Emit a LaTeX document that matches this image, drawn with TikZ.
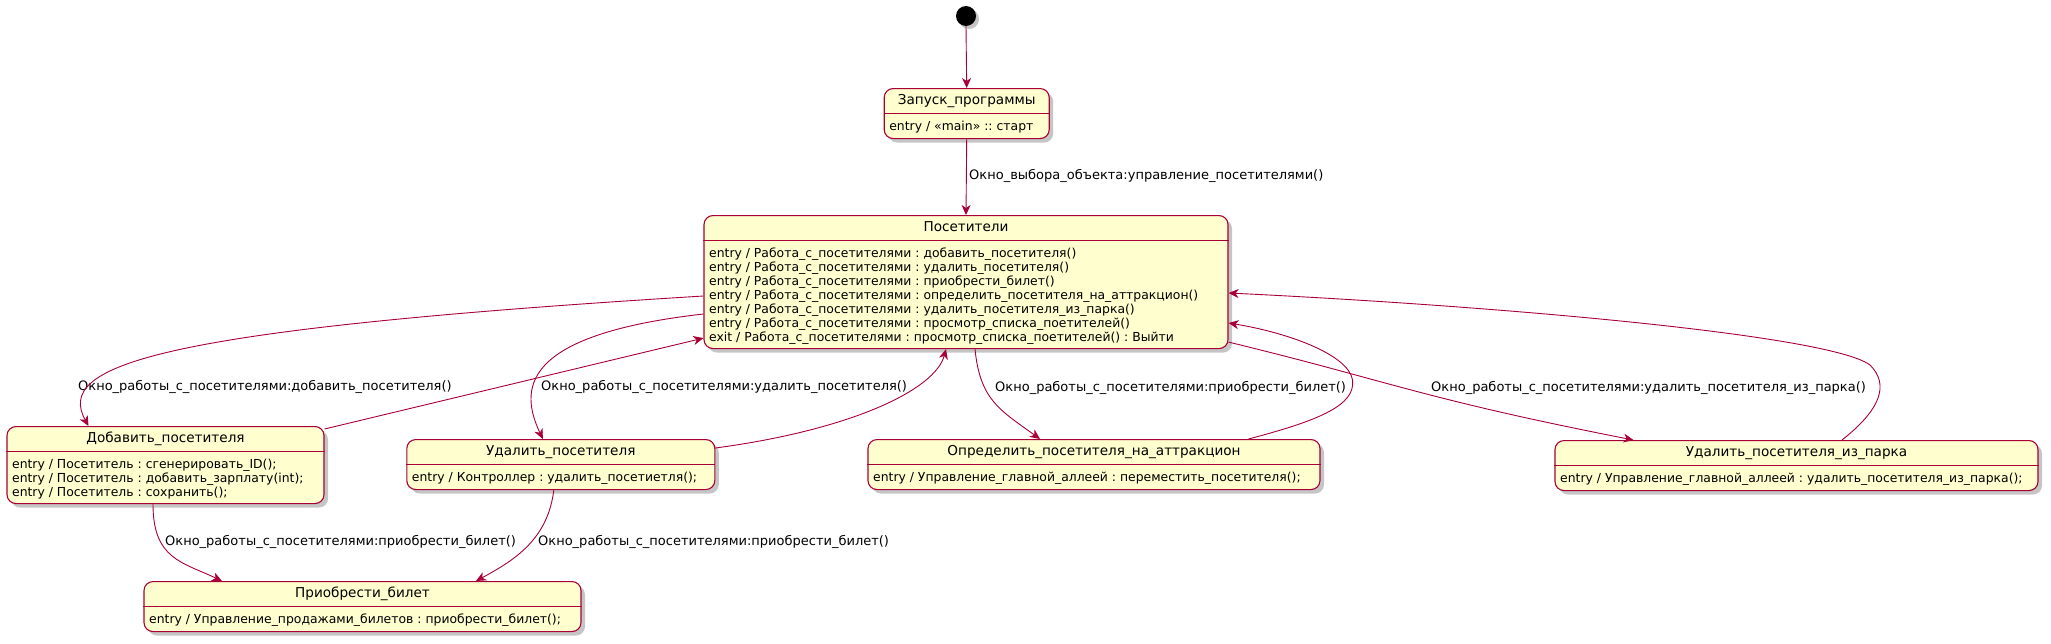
\documentclass[tikz,border=0pt]{standalone}
\usepackage{fontspec}
\setmainfont{DejaVu Sans}
\usetikzlibrary{shadows,arrows.meta}
\frenchspacing

\definecolor{umlred}{HTML}{A80036}
\definecolor{umlfill}{HTML}{FEFECE}

\tikzset{
  statebox/.style={draw=umlred, line width=1.1pt, fill=umlfill, rounded corners=9pt, anchor=north,
    minimum height=50pt, inner sep=0pt,
    drop shadow={shadow xshift=4pt, shadow yshift=-4pt, fill=black!45, opacity=0.5}},
  statename/.style={anchor=north, minimum height=25pt, inner sep=0pt, text height=10.5pt,
    text depth=3.5pt, font=\fontsize{13.6}{16}\selectfont},
  statebody/.style={anchor=north west, inner sep=0pt, align=left, font=\fontsize{12.4}{14}\selectfont},
  splitline/.style={draw=umlred, line width=1.1pt},
  initial/.style={circle, fill=black, minimum size=20pt, inner sep=0pt,
    drop shadow={shadow xshift=3pt, shadow yshift=-3pt, fill=black!45, opacity=0.5}},
  trans/.style={draw=umlred, line width=0.9pt, -{Stealth[length=10pt, width=9pt, inset=3pt]}},
  lbl/.style={anchor=west, inner sep=0pt, font=\fontsize{13}{14}\selectfont}
}

\begin{document}
\begin{tikzpicture}[x=1pt, y=-1pt]
   \useasboundingbox (0,0) rectangle (2051,643);

   % Start
   \node[initial] (start) at (966,16) {};

   % Запуск_программы
   \node[statebox, minimum width=165pt] (zapusk) at (966.7,88) {};
   \node[statename] (zapusk-name) at (zapusk.north) {Запуск\_программы};
   \draw[splitline] (zapusk.west |- zapusk-name.south) -- (zapusk.east |- zapusk-name.south);
   \node[statebody] (zapusk-body) at ([xshift=5.5pt, yshift=-7pt]zapusk.west |- zapusk-name.south)
     {\strut entry / «main» :: старт};

   % Посетители
   \node[statebox, minimum width=524pt, minimum height=133pt] (posetiteli) at (966,215) {};
   \node[statename] (posetiteli-name) at (posetiteli.north) {Посетители};
   \draw[splitline] (posetiteli.west |- posetiteli-name.south) -- (posetiteli.east |- posetiteli-name.south);
   \node[statebody] (posetiteli-body) at ([xshift=5.5pt, yshift=-7pt]posetiteli.west |- posetiteli-name.south)
     {\strut entry / Работа\_с\_посетителями : добавить\_посетителя()\\
      entry / Работа\_с\_посетителями : удалить\_посетителя()\\
      entry / Работа\_с\_посетителями : приобрести\_билет()\\
      entry / Работа\_с\_посетителями : определить\_посетителя\_на\_аттракцион()\\
      entry / Работа\_с\_посетителями : удалить\_посетителя\_из\_парка()\\
      entry / Работа\_с\_посетителями : просмотр\_списка\_поетителей()\\
      exit / Работа\_с\_посетителями : просмотр\_списка\_поетителей() : Выйти};

   % Добавить_посетителя
   \node[statebox, minimum width=317pt, minimum height=77pt] (dobavit) at (165.5,426) {};
   \node[statename] (dobavit-name) at (dobavit.north) {Добавить\_посетителя};
   \draw[splitline] (dobavit.west |- dobavit-name.south) -- (dobavit.east |- dobavit-name.south);
   \node[statebody] (dobavit-body) at ([xshift=5.5pt, yshift=-7pt]dobavit.west |- dobavit-name.south)
     {\strut entry / Посетитель : сгенерировать\_ID();\\
      entry / Посетитель : добавить\_зарплату(int);\\
      entry / Посетитель : сохранить();};

   % Удалить_посетителя
   \node[statebox, minimum width=308pt] (udalit) at (560.8,439) {};
   \node[statename] (udalit-name) at (udalit.north) {Удалить\_посетителя};
   \draw[splitline] (udalit.west |- udalit-name.south) -- (udalit.east |- udalit-name.south);
   \node[statebody] (udalit-body) at ([xshift=5.5pt, yshift=-7pt]udalit.west |- udalit-name.south)
     {\strut entry / Контроллер : удалить\_посетиетля();};

   % Определить_посетителя_на_аттракцион
   \node[statebox, minimum width=452pt] (opredelit) at (1094,439) {};
   \node[statename] (opredelit-name) at (opredelit.north) {Определить\_посетителя\_на\_аттракцион};
   \draw[splitline] (opredelit.west |- opredelit-name.south) -- (opredelit.east |- opredelit-name.south);
   \node[statebody] (opredelit-body) at ([xshift=5.5pt, yshift=-7pt]opredelit.west |- opredelit-name.south)
     {\strut entry / Управление\_главной\_аллеей : переместить\_посетителя();};

   % Удалить_посетителя_из_парка
   \node[statebox, minimum width=483pt] (udalitpark) at (1796.5,440) {};
   \node[statename] (udalitpark-name) at (udalitpark.north) {Удалить\_посетителя\_из\_парка};
   \draw[splitline] (udalitpark.west |- udalitpark-name.south) -- (udalitpark.east |- udalitpark-name.south);
   \node[statebody] (udalitpark-body) at ([xshift=5.5pt, yshift=-7pt]udalitpark.west |- udalitpark-name.south)
     {\strut entry / Управление\_главной\_аллеей : удалить\_посетителя\_из\_парка();};

   % Приобрести_билет
   \node[statebox, minimum width=437pt] (kupit) at (362.5,581) {};
   \node[statename] (kupit-name) at (kupit.north) {Приобрести\_билет};
   \draw[splitline] (kupit.west |- kupit-name.south) -- (kupit.east |- kupit-name.south);
   \node[statebody] (kupit-body) at ([xshift=5.5pt, yshift=-7pt]kupit.west |- kupit-name.south)
     {\strut entry / Управление\_продажами\_билетов : приобрести\_билет();};

   % Labels
   \node[lbl] (lzapusk) at (969,176) {Окно\_выбора\_объекта:управление\_посетителями()};
   \node[lbl] (ldobavit) at (78,387) {Окно\_работы\_с\_посетителями:добавить\_посетителя()};
   \node[lbl] (ludalit) at (541,387) {Окно\_работы\_с\_посетителями:удалить\_посетителя()};
   \node[lbl] (lopredelit) at (995,388) {Окно\_работы\_с\_посетителями:приобрести\_билет()};
   \node[lbl] (lpark) at (1431,388) {Окно\_работы\_с\_посетителями:удалить\_посетителя\_из\_парка()};
   \node[lbl] (lkupit) at (165,542) {Окно\_работы\_с\_посетителями:приобрести\_билет()};
   \node[lbl] (lkupitb) at (538,542) {Окно\_работы\_с\_посетителями:приобрести\_билет()};

   % Transitions
   \draw[trans] (start.south) -- (zapusk.north);
   \draw[trans] (zapusk.south) -- (posetiteli.north);
   \draw[trans] ([yshift=-81pt]posetiteli.north west) .. controls +(-555,34) and +(-33,-60) .. ([xshift=-77pt]dobavit.north);  % add
   \draw[trans] ([yshift=-3pt]dobavit.north east) -- ([yshift=11pt]posetiteli.south west);  % back
   \draw[trans] ([yshift=-99pt]posetiteli.north west) .. controls +(-185,21) and +(-23,-49) .. ([xshift=-18pt]udalit.north);  % delete
   \draw[trans] ([yshift=-9pt]udalit.north east) .. controls +(135,-18) and +(-11,41) .. ([xshift=-20pt]posetiteli.south);  % back
   \draw[trans] ([xshift=9pt]posetiteli.south) .. controls +(5,51) and +(-40,-29) .. ([xshift=-54pt]opredelit.north);  % ride
   \draw[trans] ([xshift=-72pt]opredelit.north east) .. controls +(72,-19) and +(3,25) .. +(104,-59)
      .. controls +(-4,-25) and +(61,10) .. ([yshift=-108pt]posetiteli.north east);  % back
   \draw[trans] ([yshift=7pt]posetiteli.south east) .. controls +(161,39) and +(-214,-42) .. ([xshift=79pt]udalitpark.north west);  % leave park
   \draw[trans] ([xshift=45.5pt]udalitpark.north) .. controls +(38,-30) and +(20,20) .. +(28,-75)
      .. controls +(-40,-30) and +(271,13) .. ([yshift=-78pt]posetiteli.north east);  % back
   \draw[trans] ([xshift=-12.5pt]dobavit.south) .. controls +(0,55) and +(-40,-19) .. ([xshift=-140.5pt]kupit.north);  % ticket
   \draw[trans] ([xshift=-7pt]udalit.south) .. controls +(-6,49) and +(39,-21) .. ([xshift=113.5pt]kupit.north);  % ticket

\end{tikzpicture}
\end{document}
